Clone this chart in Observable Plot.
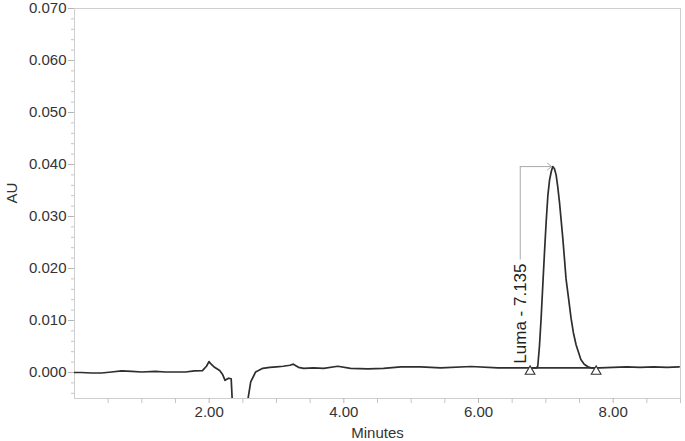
<!DOCTYPE html>
<html><head><meta charset="utf-8">
<script src="https://cdn.jsdelivr.net/npm/d3@7"></script>
<script src="https://cdn.jsdelivr.net/npm/@observablehq/plot@0.6"></script>
<style>body{margin:0;background:#fff}#chart svg{display:block}</style>
</head><body><div id="chart"></div>
<script>
// Chromatogram trace (minutes, AU)
const times = [0,0.1,0.25,0.4,0.55,0.7,0.85,1.0,1.2,1.35,1.5,1.65,1.78,1.9,1.96,1.997,2.03,2.08,2.156,2.2,2.236,2.287,2.327,2.345,2.4,2.52,2.565,2.617,2.69,2.796,2.9,3.0,3.1,3.2,3.25,3.326,3.405,3.55,3.7,3.91,4.1,4.36,4.59,4.85,5.14,5.44,5.89,6.29,6.63,6.78,6.86,6.88,6.905,6.93,6.955,6.98,7.005,7.03,7.055,7.08,7.103,7.128,7.153,7.178,7.203,7.228,7.253,7.277,7.3,7.34,7.375,7.41,7.45,7.49,7.52,7.57,7.625,7.67,7.8,8.0,8.2,8.4,8.6,8.8,8.98];
const absorbance = [0,0,-0.0001,-0.0001,0.0001,0.0003,0.0002,0.0001,0.0002,0.0001,0.0001,0.0001,0.0003,0.00035,0.0012,0.0021,0.0016,0.001,0.0004,-0.0004,-0.0015,-0.0011,-0.0012,-0.006,-0.02,-0.02,-0.006,-0.0018,0.0001,0.0008,0.001,0.0011,0.0012,0.0014,0.0016,0.001,0.0008,0.0009,0.0008,0.0012,0.0008,0.0007,0.0008,0.0011,0.0011,0.0009,0.00115,0.0009,0.0009,0.0009,0.0009,0.0012,0.005,0.0104,0.0168,0.0231,0.029,0.034,0.037,0.0386,0.0396,0.0392,0.038,0.0356,0.0327,0.0292,0.0257,0.0218,0.018,0.014,0.0104,0.0076,0.0053,0.0037,0.0025,0.0016,0.0011,0.0009,0.0009,0.001,0.0011,0.001,0.0011,0.001,0.0011];

const xTicks = [2, 4, 6, 8];
const xMinorTicks = [0.5,1,1.5,2.5,3,3.5,4.5,5,5.5,6.5,7,7.5,8.5,9];
const yTicks = [0, 0.01, 0.02, 0.03, 0.04, 0.05, 0.06, 0.07];
const yMinorTicks = [-0.004,-0.002,0.002,0.004,0.006,0.008,0.012,0.014,0.016,0.018,0.022,0.024,0.026,0.028,0.032,0.034,0.036,0.038,0.042,0.044,0.046,0.048,0.052,0.054,0.056,0.058,0.062,0.064,0.066,0.068];

// Peak annotation
const peakName = "Luma";
const peakRT = "7.135";
const peakApexTime = [7.085];
const peakApexValue = [0.0396];
const labelTime = [6.62];
const labelBottom = [0.0017];
const labelTop = [0.0218];
const peakLimits = [6.766, 7.747];
const peakBaseline = [0.0009, 0.0009];
const markerValue = 0.0002;

const trace = times.map((t, i) => ({t, v: absorbance[i]}));
const leaderPath = [
  {t: labelTime[0], v: labelTop[0]},
  {t: labelTime[0], v: peakApexValue[0]}
];
const baseSeg = peakLimits.map((t, i) => ({t, v: peakBaseline[i]}));
const markers = peakLimits.map(t => ({t, v: markerValue}));

const font = "'Liberation Sans', Arial, Helvetica, sans-serif";

const chart = Plot.plot({
  width: 685,
  height: 441,
  marginLeft: 74,
  marginRight: 5,
  marginTop: 8,
  marginBottom: 43,
  style: {fontFamily: font, background: "#fff"},
  x: {domain: [0, 9], label: null},
  y: {domain: [-0.005, 0.070], label: null},
  marks: [
    Plot.frame({stroke: "#cfcfcf"}),
    Plot.axisY({ticks: yTicks, tickFormat: d3.format(".3f"), tickSize: 6, tickPadding: 2, stroke: "#b5b5b5", fill: "#333", fontSize: 15, label: null}),
    Plot.axisY({ticks: yMinorTicks, tickFormat: () => "", tickSize: 3, stroke: "#c5c5c5", label: null}),
    Plot.axisX({ticks: xTicks, tickFormat: d3.format(".2f"), tickSize: 5, tickPadding: 3, stroke: "#b5b5b5", fill: "#333", fontSize: 15, label: null}),
    Plot.axisX({ticks: xMinorTicks, tickFormat: () => "", tickSize: 5, stroke: "#c5c5c5", label: null}),
    Plot.line(baseSeg, {x: "t", y: "v", stroke: "#333", strokeWidth: 1.7}),
    Plot.line(trace, {x: "t", y: "v", stroke: "#2e2e2e", strokeWidth: 1.7, clip: true, curve: "linear"}),
    Plot.line(leaderPath, {x: "t", y: "v", stroke: "#aaa", strokeWidth: 1}),
    Plot.arrow([0], {x1: () => labelTime[0], y1: () => peakApexValue[0], x2: () => peakApexTime[0], y2: () => peakApexValue[0], stroke: "#aaa", strokeWidth: 1, headLength: 8, headAngle: 80, bend: 0}),
    Plot.dot(markers, {x: "t", y: "v", symbol: "triangle", r: 3.6, stroke: "#333", fill: "white", strokeWidth: 1.1}),
    Plot.text([`${peakName} - ${peakRT}`], {x: () => labelTime[0], y: () => labelBottom[0], text: d => d, rotate: -90, textAnchor: "start", lineAnchor: "middle", fontSize: 17, fill: "#222"}),
    Plot.text(["AU"], {frameAnchor: "left", dx: -62, rotate: -90, text: d => d, fontSize: 15, fill: "#333", lineAnchor: "middle"}),
    Plot.text(["Minutes"], {frameAnchor: "bottom", dy: 35, text: d => d, fontSize: 15, fill: "#333", lineAnchor: "middle"})
  ]
});
document.getElementById("chart").appendChild(chart);
</script>
</body></html>
